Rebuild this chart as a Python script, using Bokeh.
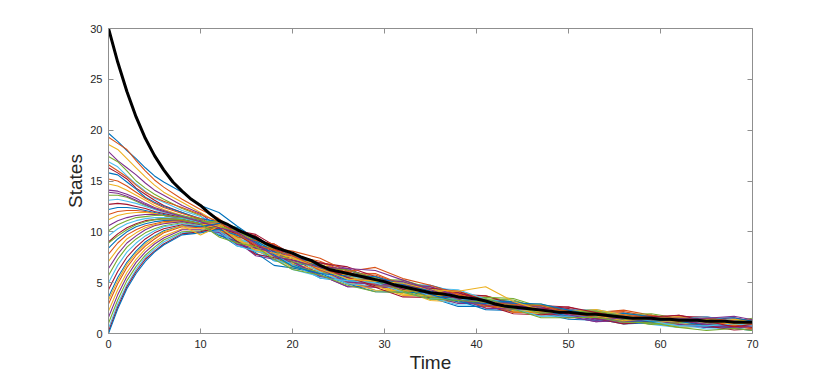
from bokeh.plotting import figure
from bokeh.models import LinearAxis, Range1d, FixedTicker, CustomJSTickFormatter
from bokeh.embed import file_html
from bokeh.resources import INLINE

# sample times of the individual runs
times = [0, 1, 2, 3, 4, 5, 6, 8, 10, 12, 14, 16, 18, 20, 23, 26, 29, 32, 35,
         38, 41, 44, 47, 50, 53, 56, 59, 62, 65, 68, 70]

# individual state trajectories
runs = [
    [19.7,18.9,18.0,17.2,16.3,15.5,14.9,13.9,12.6,11.9,10.55,9.3,8.65,7.5,6.8,5.65,4.7,4.8,4.75,4.0,3.1,2.25,2.15,2.3,2.2,1.55,1.05,1.35,1.5,0.95,0.75],
    [19.3,18.7,18.1,17.0,16.0,15.1,14.4,13.2,12.2,11.3,9.95,9.6,8.2,6.75,6.05,5.95,5.9,4.8,3.7,3.7,3.7,3.0,1.85,1.85,2.05,2.3,1.8,1.2,0.75,1.25,1.35],
    [18.6,18.1,17.2,16.3,15.4,14.6,13.9,12.9,11.9,10.85,9.5,8.1,7.6,7.35,6.95,5.95,4.7,3.9,3.85,3.85,2.95,2.1,2.0,2.15,1.45,1.1,1.35,1.5,1.2,0.5,0.6],
    [17.9,17.0,16.3,15.6,14.8,14.1,13.6,12.6,11.8,10.4,9.05,8.55,8.5,7.5,5.75,4.6,4.7,4.95,4.15,3.1,2.95,3.15,2.6,1.7,1.15,1.4,1.8,1.35,0.75,0.8,1.05],
    [17.4,16.9,16.0,15.0,14.3,13.7,13.2,12.3,11.6,10.1,9.8,9.45,8.05,6.6,5.9,5.8,5.6,4.5,3.4,3.25,3.4,3.3,2.45,1.55,1.75,1.85,1.2,0.75,1.05,1.4,1.05],
    [16.9,16.4,15.5,14.7,14.0,13.3,12.9,12.1,11.5,10.55,8.9,7.8,7.45,7.2,6.5,5.2,4.25,4.05,4.0,4.15,3.4,2.4,1.7,1.85,2.05,1.55,0.9,0.6,0.75,1.1,0.6],
    [16.3,15.8,15.2,14.3,13.7,13.1,12.6,11.9,11.2,9.95,9.5,9.15,8.8,7.8,6.2,5.05,4.85,4.8,4.6,3.7,2.65,2.55,2.75,2.6,1.9,1.25,1.35,1.65,1.65,1.1,0.75],
    [15.8,15.6,14.9,14.2,13.4,12.9,12.5,11.9,11.3,11.0,9.8,8.4,7.15,6.9,6.65,6.25,5.3,4.35,3.55,2.65,2.65,2.7,2.0,1.4,1.3,1.55,1.65,1.05,0.6,0.65,0.9],
    [15.2,15.0,14.5,13.9,13.3,12.8,12.4,11.8,11.3,10.4,9.95,8.85,7.75,7.65,6.35,4.9,4.55,4.65,4.3,3.55,2.5,2.4,2.45,2.0,2.05,2.0,1.5,0.9,0.9,1.1,1.35],
    [14.7,14.5,14.1,13.6,13.1,12.6,12.2,11.6,11.0,9.65,9.2,8.7,7.6,6.45,5.9,5.8,5.15,4.2,3.25,3.1,3.1,3.0,2.15,1.55,1.6,1.7,1.05,0.6,0.75,0.95,0.45],
    [14.1,14.0,13.7,13.3,12.8,12.4,12.1,11.5,11.1,10.7,10.25,9.0,7.75,7.35,6.95,6.4,5.3,4.35,4.15,4.0,3.25,2.4,2.3,2.3,1.6,1.1,1.35,1.5,1.05,0.65,0.75],
    [13.6,13.6,13.4,13.0,12.6,12.3,12.0,11.6,11.2,10.25,8.9,8.55,8.35,7.95,6.5,5.2,5.0,5.1,4.3,3.4,2.65,2.85,2.9,2.15,1.45,1.55,1.8,1.35,0.9,1.25,1.5],
    [13.1,13.2,13.0,12.8,12.5,12.2,11.9,11.5,11.0,10.85,9.5,8.25,7.15,6.9,5.6,5.35,5.3,4.5,3.55,2.8,2.8,2.85,2.15,1.55,1.75,1.85,1.35,0.9,0.45,0.5,0.6],
    [12.7,12.8,12.7,12.5,12.3,12.0,11.8,11.4,10.9,10.4,9.95,9.6,8.35,7.2,6.65,6.25,5.45,4.35,3.7,3.85,3.7,2.85,2.0,2.0,2.2,1.7,1.05,1.05,1.35,1.55,1.2],
    [12.2,12.4,12.4,12.3,12.1,11.9,11.7,11.3,10.8,9.8,8.6,8.25,7.9,6.9,5.45,5.2,5.15,4.95,4.0,3.25,3.1,3.15,2.6,1.85,1.3,1.4,1.5,1.05,0.6,0.8,0.9],
    [11.7,12.0,12.1,12.1,12.0,11.8,11.6,11.3,10.9,10.9,9.8,8.4,7.75,7.65,7.1,5.95,4.85,4.05,4.15,4.15,3.4,2.55,1.85,1.85,2.05,2.15,1.65,1.05,1.2,0.95,0.6],
    [11.2,11.6,11.8,11.9,11.9,11.8,11.6,11.3,10.9,10.1,9.65,9.3,8.2,6.9,6.2,5.8,4.85,3.9,3.7,3.7,2.8,2.1,2.15,2.3,1.9,1.25,0.9,1.2,1.35,0.8,0.6],
    [10.6,11.1,11.4,11.6,11.7,11.7,11.6,11.3,10.9,10.55,9.05,7.65,7.3,7.05,5.75,4.6,4.55,4.5,3.7,2.95,2.95,3.0,2.3,1.7,1.15,1.25,1.35,1.5,1.05,0.65,0.75],
    [10.1,10.7,11.1,11.4,11.5,11.6,11.6,11.4,11.0,11.0,10.4,9.15,8.05,7.8,6.5,5.35,5.3,5.25,4.45,3.55,2.8,2.85,2.75,2.15,1.6,1.85,1.95,1.5,0.9,0.95,1.2],
    [9.6,10.3,10.8,11.1,11.3,11.4,11.4,11.3,10.9,9.95,9.35,8.85,7.45,6.3,5.6,5.5,5.45,4.65,3.7,3.4,3.4,2.7,1.85,1.85,1.9,1.4,0.9,0.9,1.2,1.25,0.9],
    [9.0,9.8,10.4,10.8,11.1,11.2,11.3,11.2,10.8,10.7,10.1,9.75,8.65,7.5,6.95,6.55,5.6,4.65,4.0,4.0,3.25,2.4,2.3,2.45,1.9,1.4,1.5,1.8,1.35,0.8,0.6],
    [8.4,9.3,10.0,10.5,10.8,11.0,11.1,11.1,10.7,9.65,9.05,7.95,6.7,6.45,5.9,4.9,4.1,4.05,4.0,3.25,2.35,2.25,2.3,2.15,1.45,0.95,1.05,1.2,0.9,0.5,0.3],
    [7.8,8.9,9.7,10.2,10.6,10.8,11.0,11.1,10.8,10.4,9.8,8.7,8.35,8.1,7.4,6.1,5.0,4.2,4.15,3.4,2.65,2.7,2.6,1.85,1.45,1.7,1.8,1.35,0.75,0.8,1.05],
    [7.1,8.3,9.3,9.9,10.4,10.7,10.9,11.0,10.7,10.85,9.5,8.25,7.75,7.5,6.2,5.05,4.25,4.2,4.15,4.15,3.4,2.55,1.85,2.0,2.2,1.85,1.2,0.9,1.05,1.4,1.2],
    [6.4,7.8,8.9,9.6,10.2,10.6,10.8,11.0,10.7,10.1,8.75,8.4,8.05,7.05,5.6,5.2,5.3,5.1,4.15,3.25,3.1,3.0,2.15,1.55,1.6,1.7,1.35,0.9,0.6,0.95,1.05],
    [5.7,7.3,8.5,9.3,9.9,10.3,10.6,10.9,10.6,10.55,10.1,9.0,7.6,6.6,6.05,5.95,5.15,4.2,3.4,3.4,3.55,3.45,2.6,2.0,2.05,1.4,0.9,1.05,1.35,1.1,0.75],
    [5.0,6.7,8.0,8.9,9.6,10.1,10.5,10.8,10.6,9.8,9.2,8.85,8.5,7.5,6.05,4.9,4.7,4.65,4.45,4.3,3.4,2.4,2.15,2.3,2.35,1.85,1.35,1.5,1.65,1.25,0.9],
    [4.3,6.1,7.5,8.5,9.3,9.9,10.3,10.7,10.5,10.4,9.05,7.8,7.45,7.2,6.5,5.5,4.55,3.6,3.55,3.55,2.8,1.95,1.85,2.0,1.45,0.95,1.2,1.35,0.75,0.35,0.45],
    [3.6,5.5,7.0,8.1,9.0,9.6,10.1,10.6,10.5,10.85,10.4,9.15,8.05,7.8,6.5,5.2,5.0,4.95,4.15,3.25,3.25,3.15,2.3,1.7,1.75,2.0,1.65,1.2,0.75,0.95,1.2],
    [2.9,4.9,6.5,7.7,8.6,9.3,9.9,10.5,10.4,10.25,9.5,9.15,8.8,7.65,6.2,5.8,5.75,4.8,3.85,3.7,2.8,2.1,2.15,2.3,1.75,1.25,1.35,1.65,1.2,0.8,0.45],
    [2.2,4.3,6.0,7.3,8.3,9.0,9.6,10.3,10.3,10.7,9.35,8.1,7.6,7.35,6.8,5.65,4.7,3.75,3.7,3.85,3.1,2.25,2.15,2.15,2.35,1.85,1.2,1.2,1.35,0.95,0.75],
    [1.6,3.8,5.6,7.0,8.0,8.8,9.4,10.2,10.2,9.95,8.75,8.4,7.9,7.65,6.35,5.05,4.85,4.8,4.6,3.7,2.8,2.7,2.6,2.0,1.45,1.1,1.35,1.35,0.9,0.5,0.75],
    [1.0,3.3,5.2,6.6,7.7,8.5,9.2,10.0,10.1,10.55,9.95,9.45,8.2,7.05,6.5,6.25,5.45,4.5,3.55,3.4,3.4,2.7,2.0,2.15,2.2,1.7,1.2,1.5,1.5,1.1,1.2],
    [0.5,2.9,4.8,6.3,7.5,8.3,9.0,9.9,10.0,10.1,8.6,8.1,7.75,6.75,5.45,5.2,5.0,4.05,3.4,3.4,3.25,2.4,1.7,1.7,1.75,1.7,1.2,0.75,0.75,0.95,0.75],
    [0.2,2.6,4.6,6.1,7.3,8.1,8.8,9.8,10.0,10.4,9.8,8.55,8.2,7.95,6.65,5.5,4.7,4.65,4.45,4.15,3.25,2.55,2.45,2.6,2.05,1.55,1.65,1.8,1.2,0.65,0.9],
    [0.0,2.4,4.4,5.9,7.1,8.0,8.7,9.7,9.9,10.25,9.65,9.0,7.75,6.6,5.9,5.65,5.6,4.8,3.85,3.1,2.95,3.0,2.9,2.3,1.75,1.25,1.2,1.35,1.5,1.55,1.2],
    [16.6,16.0,15.4,14.6,13.9,13.4,13.0,12.4,11.7,11.0,9.8,8.7,8.2,7.65,6.35,6.1,6.5,5.4,4.75,3.85,3.1,2.85,2.75,2.0,1.6,1.85,1.5,1.2,1.5,1.25,0.9],
    [3.3,5.2,6.8,7.9,8.8,9.5,10.0,10.6,9.7,10.55,9.2,8.25,7.9,7.5,6.35,5.35,5.15,4.95,4.3,4.15,4.6,3.15,2.3,2.15,1.75,1.25,1.5,1.65,1.2,0.95,1.05],
    [13.9,13.8,13.5,13.1,12.7,12.3,12.0,11.5,11.0,10.4,9.95,8.85,7.6,7.2,6.5,6.4,6.2,5.25,4.3,3.4,2.5,2.4,2.45,1.85,1.3,1.55,1.5,1.5,1.5,1.7,1.35],
    [8.9,9.6,10.2,10.7,11.0,11.2,11.3,11.2,10.8,9.5,8.9,8.55,7.3,6.3,5.75,4.75,4.1,4.05,3.4,3.25,3.1,2.4,1.55,1.55,1.6,1.1,1.05,0.6,0.3,0.5,0.3],
]

# mean trajectory (thick black line), one value per time unit
mean_time = list(range(71))
mean_states = [30.0,26.7,23.8,21.3,19.2,17.5,16.1,14.9,14.0,13.2,
               12.6,11.8,11.1,10.7,10.2,9.8,9.4,8.9,8.5,8.2,
               7.9,7.5,7.2,6.7,6.3,6.1,5.9,5.7,5.5,5.3,
               5.1,4.8,4.6,4.4,4.2,4.0,3.9,3.8,3.6,3.5,
               3.4,3.2,2.9,2.7,2.6,2.5,2.4,2.3,2.2,2.1,
               2.1,2.0,1.9,1.9,1.8,1.7,1.6,1.5,1.5,1.5,
               1.4,1.4,1.3,1.3,1.3,1.2,1.2,1.2,1.1,1.1,1.1]

palette = ["#0072BD", "#D95319", "#EDB120", "#7E2F8E", "#77AC30", "#4DBEEE", "#A2142F"]
x_ticks = [0, 10, 20, 30, 40, 50, 60, 70]
y_ticks = [0, 5, 10, 15, 20, 25, 30]
x_label = "Time"
y_label = "States"

FONT = "Liberation Sans"
AXIS_COLOR = "#8f8f8f"
TEXT_COLOR = "#262626"

p = figure(width=830, height=376, output_backend="svg", toolbar_location=None,
           x_range=Range1d(0, 70), y_range=Range1d(0, 30),
           min_border_left=108, min_border_right=78, min_border_top=28,
           min_border_bottom=43)
p.grid.visible = False
p.outline_line_color = None
p.background_fill_color = "white"
p.border_fill_color = "white"

bottom_axis = p.below[0]
left_axis = p.left[0]

for i, run in enumerate(runs):
    xs = [t for t, _ in zip(times, run)]
    ys = [v for _, v in zip(times, run)]
    p.line(xs, ys, line_color=palette[i % len(palette)], line_width=1.1)

p.line(mean_time, mean_states, line_color="black", line_width=3)

blank = CustomJSTickFormatter(code="return '';")
top_axis = LinearAxis(formatter=blank)
right_axis = LinearAxis(formatter=blank)
p.add_layout(top_axis, "above")
p.add_layout(right_axis, "right")

for ax, ticks in ((bottom_axis, x_ticks), (top_axis, x_ticks),
                  (left_axis, y_ticks), (right_axis, y_ticks)):
    ax.ticker = FixedTicker(ticks=ticks)
    ax.axis_line_color = AXIS_COLOR
    ax.axis_line_width = 1
    ax.major_tick_line_color = AXIS_COLOR
    ax.major_tick_in = 5
    ax.major_tick_out = 0
    ax.minor_tick_line_color = None
    ax.major_label_text_font = FONT
    ax.major_label_text_font_size = "11px"
    ax.major_label_text_color = TEXT_COLOR

for ax in (top_axis, right_axis):
    ax.major_label_standoff = 0

for ax, lab in ((bottom_axis, x_label), (left_axis, y_label)):
    ax.axis_label = lab
    ax.axis_label_text_font = FONT
    ax.axis_label_text_font_size = "19px"
    ax.axis_label_text_font_style = "normal"
    ax.axis_label_text_color = TEXT_COLOR
    ax.axis_label_standoff = 1

bottom_axis.major_label_standoff = 6
left_axis.major_label_standoff = 6

open("out.html", "w").write(file_html(p, INLINE))
